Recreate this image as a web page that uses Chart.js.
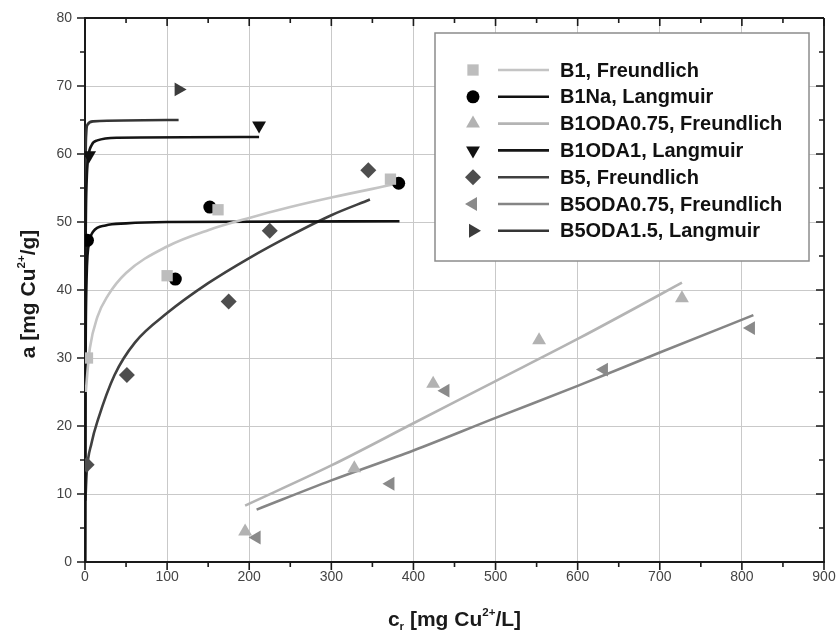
<!DOCTYPE html>
<html>
<head>
<meta charset="utf-8">
<script src="https://cdn.jsdelivr.net/npm/chart.js@4.4.1/dist/chart.umd.min.js"></script>
<style>
  html, body { margin: 0; padding: 0; background: #fff; }
  #wrap { width: 839px; height: 637px; position: relative; }
</style>
</head>
<body>
<div id="wrap"><canvas id="isoChart"></canvas></div>
<script>
const b1X = [3, 100, 162, 372];
const b1Y = [30, 42.1, 51.8, 56.3];
const b1FitX = [1, 3, 6, 15, 28, 50, 100, 150, 200, 250, 300, 375];
const b1FitY = [25, 28, 31.5, 36, 39.2, 42.5, 46.4, 48.8, 50.6, 52.2, 53.6, 55.5];

const b1NaX = [3, 110, 152, 382];
const b1NaY = [47.3, 41.6, 52.2, 55.7];
const b1NaFitX = [0, 0.5, 1, 2, 3, 5, 10, 25, 50, 100, 383];
const b1NaFitY = [0, 25, 35, 42, 45, 47, 48.6, 49.5, 49.8, 50, 50.1];

const b1Oda075X = [195, 328, 424, 553, 727];
const b1Oda075Y = [4.5, 13.8, 26.2, 32.6, 38.8];
const b1Oda075FitX = [195, 300, 400, 500, 600, 700, 727];
const b1Oda075FitY = [8.3, 14.2, 20.4, 26.6, 32.8, 39.3, 41.1];

const b1Oda1X = [5, 212];
const b1Oda1Y = [59.8, 64.2];
const b1Oda1FitX = [0, 0.5, 1, 2, 4, 8, 15, 40, 212];
const b1Oda1FitY = [0, 40, 50, 56, 59.5, 61.3, 62, 62.4, 62.5];

const b5X = [2, 51, 175, 225, 345];
const b5Y = [14.3, 27.5, 38.3, 48.7, 57.6];
const b5FitX = [0.5, 2, 8, 16, 36, 61, 100, 150, 200, 250, 300, 347];
const b5FitY = [9, 13, 17.5, 21, 27.5, 32.3, 36.6, 41, 44.7, 48, 51, 53.3];

const b5Oda075X = [209, 372, 439, 632, 811];
const b5Oda075Y = [3.6, 11.5, 25.2, 28.3, 34.4];
const b5Oda075FitX = [209, 300, 400, 500, 600, 700, 814];
const b5Oda075FitY = [7.7, 12.0, 16.4, 21.2, 25.9, 30.8, 36.3];

const b5Oda15X = [114];
const b5Oda15Y = [69.5];
const b5Oda15FitX = [0, 0.3, 0.7, 1.5, 3, 10, 114];
const b5Oda15FitY = [0, 45, 58, 63, 64.3, 64.8, 65];

const legendLabels = [
  'B1, Freundlich', 'B1Na, Langmuir', 'B1ODA0.75, Freundlich', 'B1ODA1, Langmuir',
  'B5, Freundlich', 'B5ODA0.75, Freundlich', 'B5ODA1.5, Langmuir'
];

const xTicks = [0, 100, 200, 300, 400, 500, 600, 700, 800, 900];
const yTicks = [0, 10, 20, 30, 40, 50, 60, 70, 80];

const FONT = '"Liberation Sans", Arial, sans-serif';

const series = [
  { px: b1X, py: b1Y, fx: b1FitX, fy: b1FitY, mark: '#bdbdbd', line: '#c4c4c4', style: 'rect', radius: 8, rot: 0 },
  { px: b1NaX, py: b1NaY, fx: b1NaFitX, fy: b1NaFitY, mark: '#000000', line: '#111111', style: 'circle', radius: 6.5, rot: 0 },
  { px: b1Oda075X, py: b1Oda075Y, fx: b1Oda075FitX, fy: b1Oda075FitY, mark: '#b2b2b2', line: '#b4b4b4', style: 'triangle', radius: 8, rot: 0 },
  { px: b1Oda1X, py: b1Oda1Y, fx: b1Oda1FitX, fy: b1Oda1FitY, mark: '#111111', line: '#151515', style: 'triangle', radius: 8, rot: 180 },
  { px: b5X, py: b5Y, fx: b5FitX, fy: b5FitY, mark: '#4e4e4e', line: '#404040', style: 'rectRot', radius: 8, rot: 0 },
  { px: b5Oda075X, py: b5Oda075Y, fx: b5Oda075FitX, fy: b5Oda075FitY, mark: '#8a8a8a', line: '#858585', style: 'triangle', radius: 8, rot: 270 },
  { px: b5Oda15X, py: b5Oda15Y, fx: b5Oda15FitX, fy: b5Oda15FitY, mark: '#3c3c3c', line: '#353535', style: 'triangle', radius: 8, rot: 90 }
];

const zip = (xs, ys) => xs.map((x, i) => ({ x: x, y: ys[i] }));

const datasets = [];
series.forEach((s, i) => {
  datasets.push({
    type: 'line',
    label: legendLabels[i] + ' fit',
    data: zip(s.fx, s.fy),
    borderColor: s.line,
    borderWidth: 2.6,
    pointRadius: 0,
    fill: false,
    cubicInterpolationMode: 'monotone',
    order: 2
  });
});
series.forEach((s, i) => {
  datasets.push({
    type: 'scatter',
    label: legendLabels[i],
    data: zip(s.px, s.py),
    backgroundColor: s.mark,
    borderColor: s.mark,
    borderWidth: 0,
    pointStyle: s.style,
    pointRadius: s.radius,
    pointRotation: s.rot,
    order: 1
  });
});

// draws text pieces with super/subscripts
function drawRich(ctx, parts, size) {
  let total = 0;
  parts.forEach(p => {
    ctx.font = 'bold ' + (p.sup || p.sub ? size * 0.55 : size) + 'px ' + FONT;
    p.w = ctx.measureText(p.t).width;
    total += p.w;
  });
  let x = -total / 2;
  parts.forEach(p => {
    ctx.font = 'bold ' + (p.sup || p.sub ? size * 0.55 : size) + 'px ' + FONT;
    let dy = 0;
    if (p.sup) dy = -size * 0.5;
    if (p.sub) dy = size * 0.2;
    ctx.fillText(p.t, x, dy);
    x += p.w;
  });
}

const framePlugin = {
  id: 'frame',
  afterDraw(chart) {
    const ctx = chart.ctx;
    const a = chart.chartArea;
    const xs = chart.scales.x;
    const ys = chart.scales.y;
    ctx.save();
    ctx.strokeStyle = '#1a1a1a';
    ctx.lineWidth = 1.8;
    ctx.beginPath();
    ctx.moveTo(a.left, a.top); ctx.lineTo(a.right, a.top);
    ctx.moveTo(a.right, a.top); ctx.lineTo(a.right, a.bottom);
    ctx.stroke();
    ctx.lineWidth = 1.6;
    ctx.beginPath();
    for (let v = 0; v <= 900; v += 50) {
      const px = xs.getPixelForValue(v);
      const len = v % 100 === 0 ? 8 : 5;
      ctx.moveTo(px, a.bottom); ctx.lineTo(px, a.bottom + len);
      ctx.moveTo(px, a.top); ctx.lineTo(px, a.top + len);
    }
    for (let v = 0; v <= 80; v += 5) {
      const py = ys.getPixelForValue(v);
      const len = v % 10 === 0 ? 8 : 5;
      ctx.moveTo(a.left, py); ctx.lineTo(a.left - len, py);
      ctx.moveTo(a.right, py); ctx.lineTo(a.right - len, py);
    }
    ctx.stroke();

    // axis titles
    ctx.fillStyle = '#1a1a1a';
    ctx.textBaseline = 'alphabetic';
    ctx.textAlign = 'left';
    ctx.save();
    ctx.translate((a.left + a.right) / 2, 626);
    drawRich(ctx, [{ t: 'c' }, { t: 'r', sub: true }, { t: ' [mg Cu' }, { t: '2+', sup: true }, { t: '/L]' }], 21);
    ctx.restore();
    ctx.save();
    ctx.translate(35, (a.top + a.bottom) / 2 + 4);
    ctx.rotate(-Math.PI / 2);
    drawRich(ctx, [{ t: 'a [mg Cu' }, { t: '2+', sup: true }, { t: '/g]' }], 21);
    ctx.restore();

    // legend box
    const lx = a.left + 350, ly = a.top + 15, lw = 374, lh = 228;
    ctx.fillStyle = '#ffffff';
    ctx.fillRect(lx, ly, lw, lh);
    ctx.strokeStyle = '#8c8c8c';
    ctx.lineWidth = 1.5;
    ctx.strokeRect(lx, ly, lw, lh);
    ctx.font = 'bold 20px ' + FONT;
    ctx.textBaseline = 'middle';
    series.forEach((s, i) => {
      const cy = ly + 37 + i * 26.8;
      ctx.fillStyle = s.mark;
      ctx.strokeStyle = s.mark;
      Chart.helpers.drawPoint(ctx, { pointStyle: s.style, radius: s.radius, rotation: s.rot, borderWidth: 0 }, lx + 38, cy);
      ctx.strokeStyle = s.line;
      ctx.lineWidth = 2.6;
      ctx.beginPath();
      ctx.moveTo(lx + 63, cy); ctx.lineTo(lx + 114, cy);
      ctx.stroke();
      ctx.fillStyle = '#111111';
      ctx.fillText(legendLabels[i], lx + 125, cy + 1);
    });
    ctx.restore();
  }
};

const ctx = document.getElementById('isoChart').getContext('2d');
new Chart(ctx, {
  data: { datasets: datasets },
  options: {
    responsive: true,
    maintainAspectRatio: false,
    animation: false,
    layout: { padding: { left: 0, top: 18, right: 15, bottom: 0 } },
    plugins: {
      legend: { display: false },
      tooltip: { enabled: false }
    },
    scales: {
      x: {
        type: 'linear',
        min: 0,
        max: 900,
        afterBuildTicks: (scale) => { scale.ticks = xTicks.map(v => ({ value: v })); },
        afterFit: (scale) => { scale.height = 75; scale.paddingLeft = 0; scale.paddingRight = 0; },
        ticks: { color: '#444', font: { family: FONT, size: 14 }, padding: 7, maxRotation: 0 },
        grid: { color: '#c9c9c9', lineWidth: 1, drawTicks: false },
        border: { color: '#1a1a1a', width: 2 }
      },
      y: {
        type: 'linear',
        min: 0,
        max: 80,
        afterBuildTicks: (scale) => { scale.ticks = yTicks.map(v => ({ value: v })); },
        afterFit: (scale) => { scale.width = 85; scale.paddingTop = 0; scale.paddingBottom = 0; },
        ticks: { color: '#444', font: { family: FONT, size: 14 }, padding: 13 },
        grid: { color: '#c9c9c9', lineWidth: 1, drawTicks: false },
        border: { color: '#1a1a1a', width: 2 }
      }
    }
  },
  plugins: [framePlugin]
});
</script>
</body>
</html>
